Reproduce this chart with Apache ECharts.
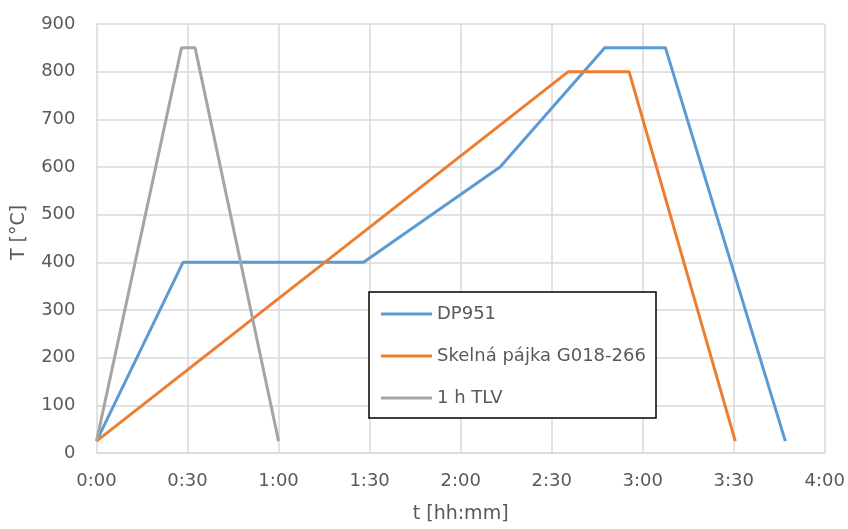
<!DOCTYPE html>
<html><head><meta charset="utf-8">
<script src="https://cdn.jsdelivr.net/npm/echarts@6/dist/echarts.min.js"></script>
<style>html,body{margin:0;padding:0;background:#fff}#c{width:848px;height:529px}</style>
</head><body><div id="c"></div>
<script>
// times in minutes
const dpTime = [0, 28.5, 88, 133, 167.5, 187.5, 227];
const dpTemp = [25, 400, 400, 600, 850, 850, 25];
const sklTime = [0, 155.5, 175.5, 210.5];
const sklTemp = [25, 800, 800, 25];
const tlvTime = [0, 28, 32.5, 60];
const tlvTemp = [25, 850, 850, 25];
const seriesNames = ['DP951', 'Skelná pájka G018-266', '1 h TLV'];
const colors = ['#5B9BD5', '#ED7D31', '#A5A5A5'];

const pairs = (xs, ys) => xs.map((x, i) => [x, ys[i]]);
const fmt = v => Math.floor(v / 60) + ':' + String(Math.round(v % 60)).padStart(2, '0');
const font = 'DejaVu Sans';
const chart = echarts.init(document.getElementById('c'));
chart.setOption({
  animation: false,
  grid: { left: 96.5, right: 22.5, top: 24, bottom: 76 },
  xAxis: {
    type: 'value', min: 0, max: 240, interval: 30,
    name: 't [hh:mm]', nameLocation: 'middle', nameGap: 52,
    nameTextStyle: { color: '#595959', fontSize: 19, fontFamily: font },
    axisLine: { show: true, lineStyle: { color: '#d9d9d9', width: 1.5 } },
    axisTick: { show: false },
    axisLabel: { color: '#595959', fontSize: 18, fontFamily: font, margin: 19, formatter: fmt },
    splitLine: { show: true, lineStyle: { color: '#d9d9d9', width: 1.5 } }
  },
  yAxis: {
    type: 'value', min: 0, max: 900, interval: 100,
    name: 'T [°C]', nameLocation: 'middle', nameGap: 68, nameRotate: 90,
    nameTextStyle: { color: '#595959', fontSize: 19, fontFamily: font, padding: [0, 0, 0, 12] },
    axisLine: { show: false }, axisTick: { show: false },
    axisLabel: { color: '#595959', fontSize: 18, fontFamily: font, margin: 21 },
    splitLine: { show: true, lineStyle: { color: '#d9d9d9', width: 1.5 } }
  },
  legend: {
    orient: 'vertical', left: 376, top: 300, itemGap: 24, z: 10,
    icon: 'rect', itemWidth: 51, itemHeight: 3,
    textStyle: { color: '#595959', fontSize: 18, fontFamily: font },
    data: seriesNames
  },
  graphic: [{
    type: 'rect', shape: { x: 369, y: 292, width: 287, height: 126 },
    style: { fill: '#fff', stroke: '#000', lineWidth: 1.5 }, z: 5
  }],
  series: [
    { name: seriesNames[0], type: 'line', data: pairs(dpTime, dpTemp), showSymbol: false, color: colors[0], lineStyle: { width: 3 }, z: 2 },
    { name: seriesNames[1], type: 'line', data: pairs(sklTime, sklTemp), showSymbol: false, color: colors[1], lineStyle: { width: 3 }, z: 2 },
    { name: seriesNames[2], type: 'line', data: pairs(tlvTime, tlvTemp), showSymbol: false, color: colors[2], lineStyle: { width: 3 }, z: 2 }
  ]
});
</script></body></html>
